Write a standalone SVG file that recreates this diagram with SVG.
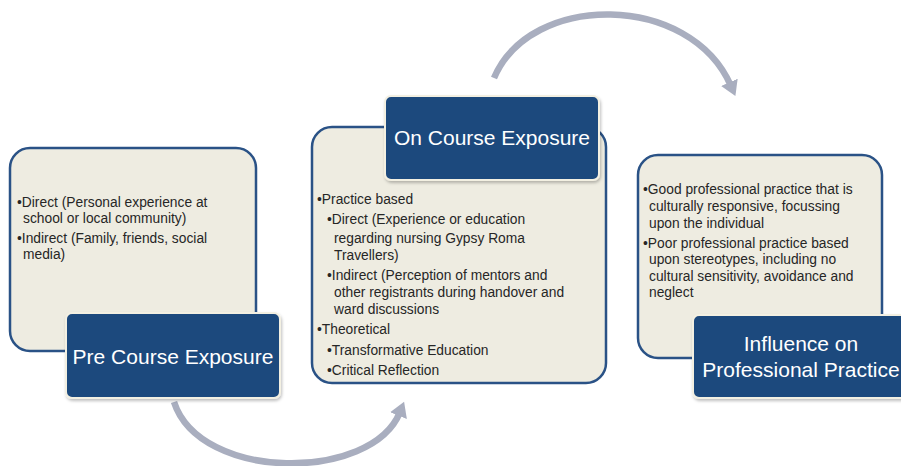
<svg xmlns="http://www.w3.org/2000/svg" width="901" height="466" viewBox="0 0 901 466">
<defs>
<marker id="ah" markerUnits="userSpaceOnUse" markerWidth="30" markerHeight="30" refX="4" refY="9" orient="auto">
<path d="M0,0 L15,9 L0,18 Z" fill="#a9aebf"/>
</marker>
<filter id="sh" x="-10%" y="-10%" width="120%" height="130%">
<feDropShadow dx="1" dy="2" stdDeviation="1.5" flood-color="#000" flood-opacity="0.25"/>
</filter>
</defs>
<style>
.body{fill:#eeece1;stroke:#2a5286;stroke-width:2.5}
.title{fill:#1f497d;stroke:#f3f0e2;stroke-width:2}
.tt{font-family:"Liberation Sans",Arial,sans-serif;font-size:21px;fill:#ffffff;text-anchor:middle}
.bt{font-family:"Liberation Sans",Arial,sans-serif;font-size:13.8px;fill:#262626}
.arc{fill:none;stroke:#a9aebf;stroke-width:6.5}
</style>
<rect width="901" height="466" fill="#ffffff"/>
<g id="connectors">
<path class="arc" d="M174,402 C200,482 372,482 400,412" marker-end="url(#ah)"/>
<path class="arc" d="M494,78 C530,-8 690,-8 731,86" marker-end="url(#ah)"/>
</g>
<g id="pre-course">
<rect class="body" x="10" y="148" width="246" height="203" rx="20"/>
<text class="bt"><tspan x="17" y="207">•Direct (Personal experience at</tspan><tspan x="23" y="223">school or local community)</tspan><tspan x="17" y="243">•Indirect (Family, friends, social</tspan><tspan x="23" y="259">media)</tspan></text>
<rect class="title" x="66" y="313" width="214" height="85" rx="6" filter="url(#sh)"/>
<text class="tt" x="173" y="364">Pre Course Exposure</text>
</g>
<g id="on-course">
<rect class="body" x="312" y="127" width="294" height="256" rx="20"/>
<text class="bt"><tspan x="317" y="204">•Practice based</tspan><tspan x="327" y="224">•Direct (Experience or education</tspan><tspan x="334" y="243">regarding nursing Gypsy Roma</tspan><tspan x="334" y="260">Travellers)</tspan><tspan x="327" y="280">•Indirect (Perception of mentors and</tspan><tspan x="334" y="297">other registrants during handover and</tspan><tspan x="334" y="314">ward discussions</tspan><tspan x="317" y="334">•Theoretical</tspan><tspan x="327" y="355">•Transformative Education</tspan><tspan x="327" y="375">•Critical Reflection</tspan></text>
<rect class="title" x="385" y="96" width="214" height="84" rx="6" filter="url(#sh)"/>
<text class="tt" x="492" y="145">On Course Exposure</text>
</g>
<g id="influence">
<rect class="body" x="638" y="155" width="244" height="203" rx="20"/>
<text class="bt"><tspan x="643" y="194">•Good professional practice that is</tspan><tspan x="649" y="211">culturally responsive, focussing</tspan><tspan x="649" y="228">upon the individual</tspan><tspan x="643" y="248">•Poor professional practice based</tspan><tspan x="649" y="264">upon stereotypes, including no</tspan><tspan x="649" y="281">cultural sensitivity, avoidance and</tspan><tspan x="649" y="297">neglect</tspan></text>
<rect class="title" x="693" y="315" width="214" height="83" rx="6" filter="url(#sh)"/>
<text class="tt"><tspan x="801" y="351">Influence on</tspan><tspan x="801" y="377">Professional Practice</tspan></text>
</g>
</svg>
